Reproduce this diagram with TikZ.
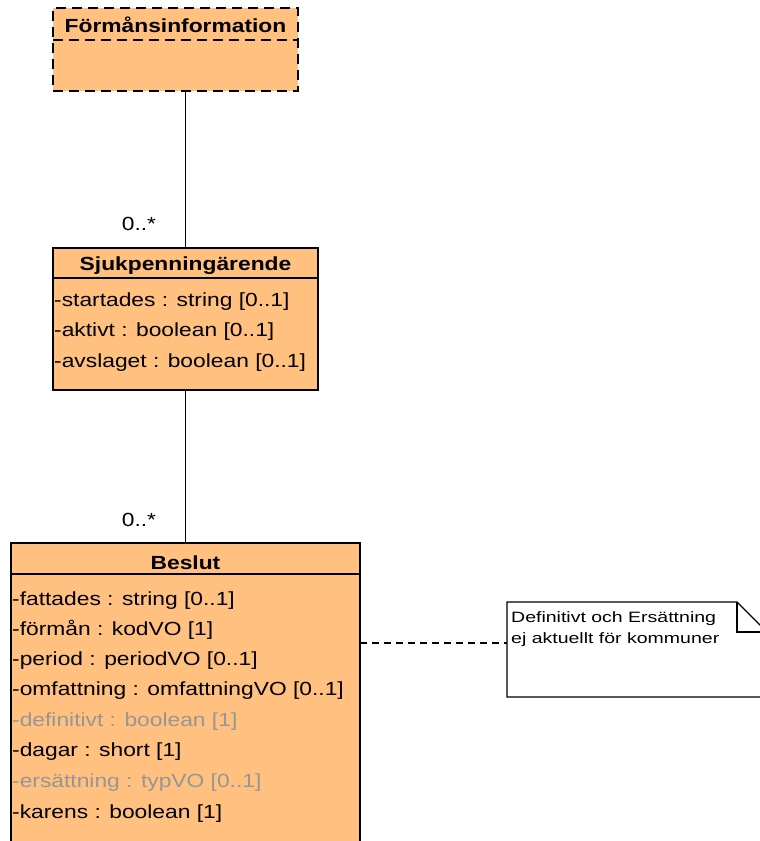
\documentclass[tikz,border=0pt]{standalone}
\usepackage{fontspec}
\setmainfont[FakeStretch=1.2]{Liberation Sans}
\newfontfamily\notefont[FakeStretch=1.3]{Liberation Sans}
\definecolor{umlfill}{RGB}{255,192,128}
\definecolor{dimtext}{RGB}{150,150,150}
\begin{document}
\begin{tikzpicture}[x=1pt,y=-1pt,
  box/.style={draw=black, fill=umlfill, anchor=north west, inner sep=0pt, outer sep=0pt},
  titletext/.style={font=\fontsize{19}{22}\selectfont\bfseries, anchor=base, inner sep=0pt},
  attr/.style={font=\fontsize{19}{22}\selectfont, anchor=base west, inner sep=0pt},
  dimattr/.style={attr, text=dimtext},
  mult/.style={font=\fontsize{19}{22}\selectfont, anchor=base, inner sep=0pt},
  link/.style={draw=black, line width=1.6pt},
  notetext/.style={font=\notefont\fontsize{15}{20}\selectfont, anchor=base west, inner sep=0pt}]
\useasboundingbox (0,0) rectangle (760,841);
\clip (0,0) rectangle (760,841);
\fill[white] (0,0) rectangle (760,841);

% Förmånsinformation
\node[box, line width=1.5pt, dash pattern=on 10pt off 6pt, minimum width=245pt, minimum height=83pt] (f) at (53,8) {};
\draw[line width=1.5pt, dash pattern=on 10pt off 6pt] (53,40) -- (298,40);
\node[titletext] (ft) at (175.5,32) {Förmånsinformation};

% Sjukpenningärende
\node[box, line width=1.5pt, minimum width=265pt, minimum height=142pt] (s) at (53,248) {};
\draw[line width=1.5pt] (53,278) -- (318,278);
\node[titletext] (st) at (185.5,270) {Sjukpenningärende};
\node[attr] (s1) at (54,306) {-startades : string [0..1]};
\node[attr] (s2) at (54,336) {-aktivt : boolean [0..1]};
\node[attr] (s3) at (54,367) {-avslaget : boolean [0..1]};

% Beslut
\node[box, line width=2.5pt, minimum width=349pt, minimum height=320pt] (b) at (11,543) {};
\draw[line width=2.5pt] (11,574) -- (360,574);
\node[titletext] (bt) at (185.5,569) {Beslut};
\node[attr] (b1) at (12,605) {-fattades : string [0..1]};
\node[attr] (b2) at (12,635) {-förmån : kodVO [1]};
\node[attr] (b3) at (12,665) {-period : periodVO [0..1]};
\node[attr] (b4) at (12,695) {-omfattning : omfattningVO [0..1]};
\node[dimattr] (b5) at (12,726) {-definitivt : boolean [1]};
\node[attr] (b6) at (12,756) {-dagar : short [1]};
\node[dimattr] (b7) at (12,787) {-ersättning : typVO [0..1]};
\node[attr] (b8) at (12,818) {-karens : boolean [1]};

% Note
\coordinate (nNW) at (507,602);
\coordinate (nFold) at (737,602);
\coordinate (nFoldIn) at (737,632);
\coordinate (nNE) at (767,632);
\coordinate (nSE) at (767,697);
\coordinate (nSW) at (507,697);
\draw[line width=1.2pt, fill=white] (nNW) -- (nFold) -- (nNE) -- (nSE) -- (nSW) -- cycle;
\draw[line width=1.2pt] (nFold) -- (nFoldIn) -- (nNE);
\node[notetext] (n1) at (511,622) {Definitivt och Ersättning};
\node[notetext] (n2) at (511,643) {ej aktuellt för kommuner};

% Connectors
\draw[link] (s.north) -- (s.north |- f.south);
\draw[link] (b.north) -- (b.north |- s.south);
\node[mult] (m1) at (139,230) {0..*};
\node[mult] (m2) at (139,526) {0..*};
\coordinate (bE) at (360,643);
\coordinate (nW) at (507,643);
\draw[line width=1.4pt, dash pattern=on 7pt off 5pt] (bE) -- (nW);
\end{tikzpicture}
\end{document}
